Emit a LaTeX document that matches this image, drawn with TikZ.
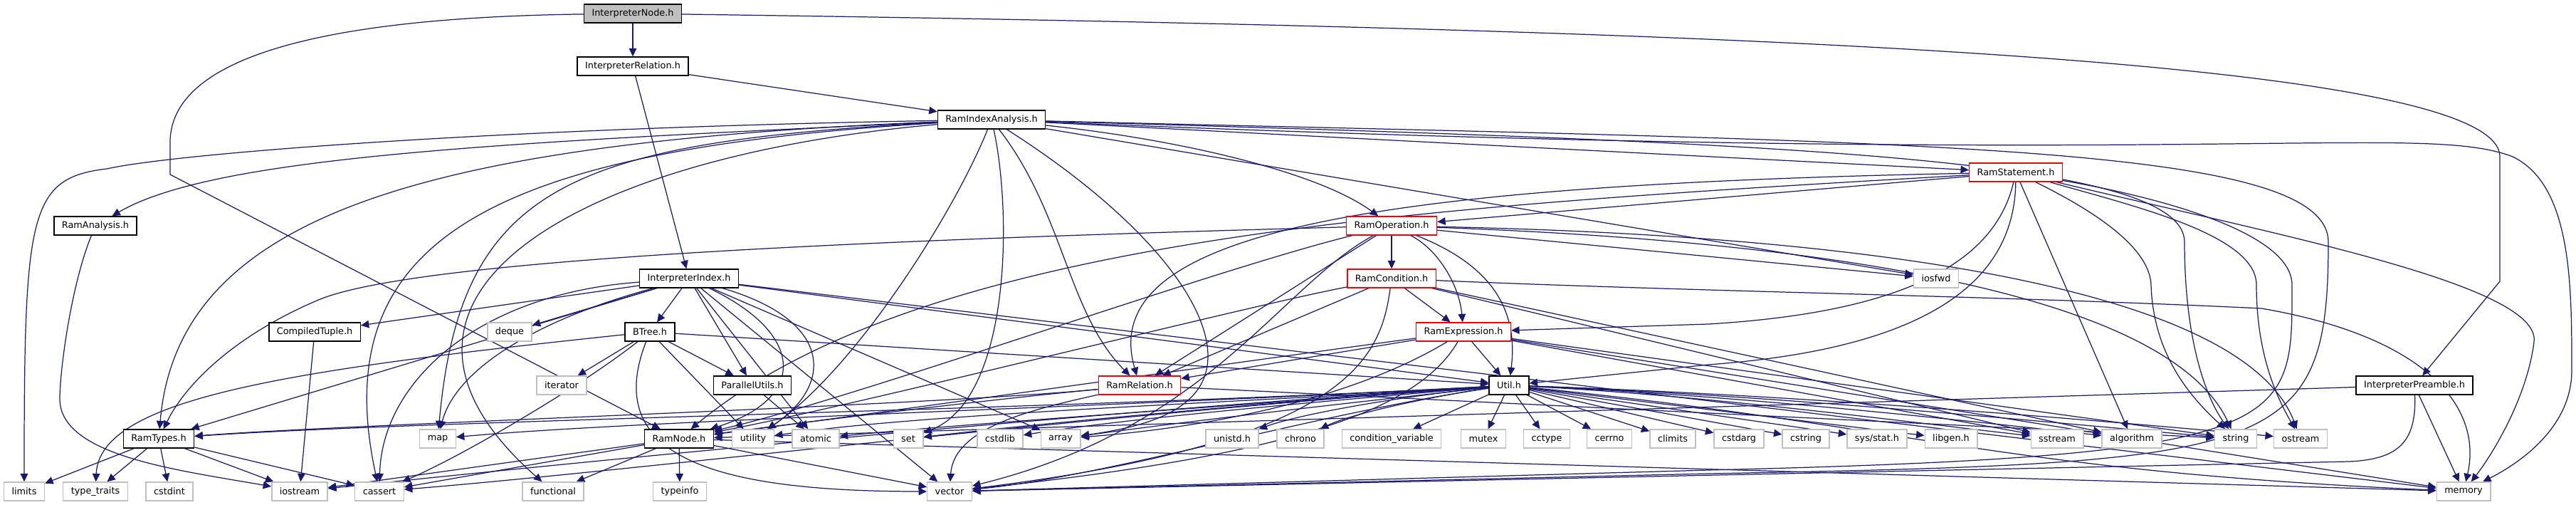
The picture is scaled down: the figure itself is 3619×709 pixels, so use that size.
\documentclass[tikz,border=0pt]{standalone}
\usepackage{fontspec}
\setmainfont{DejaVu Sans}
\usetikzlibrary{arrows.meta,backgrounds}
\definecolor{doxyedge}{HTML}{191970}
\definecolor{doxygrey}{HTML}{BFBFBF}

\begin{document}
\begin{tikzpicture}[x=0.02cm,y=-0.02cm,font=\fontsize{7.3}{8}\selectfont,
  file/.style={draw=black,fill=white,line width=0.8pt,minimum height=0.52cm,inner xsep=0.22cm,inner ysep=0pt},
  sysfile/.style={file,draw=doxygrey},
  cutfile/.style={file,draw=red},
  rootfile/.style={file,fill=doxygrey},
  inc/.style={draw=doxyedge,line width=0.7pt,-{Triangle[length=6.5pt,width=6pt]}}]
\useasboundingbox (0,0) rectangle (3619,709);
% headers
\node[rootfile] (inode) at (889,19) {InterpreterNode.h};
\node[file] (irel) at (889,93) {InterpreterRelation.h};
\node[file] (ria) at (1393,168) {RamIndexAnalysis.h};
\node[file] (rana) at (134,317) {RamAnalysis.h};
\node[cutfile] (rop) at (1955,317) {RamOperation.h};
\node[cutfile] (rst) at (2832,242) {RamStatement.h};
\node[file] (iidx) at (968,391) {InterpreterIndex.h};
\node[cutfile] (rcond) at (1955,391) {RamCondition.h};
\node[sysfile] (iosfwd) at (2720,391) {iosfwd};
\node[file] (ctup) at (442,466) {CompiledTuple.h};
\node[sysfile] (deque) at (716,466) {deque};
\node[file] (btree) at (913,466) {BTree.h};
\node[cutfile] (rexpr) at (2056,466) {RamExpression.h};
\node[sysfile] (iter) at (789,541) {iterator};
\node[file] (putil) at (1057,541) {ParallelUtils.h};
\node[cutfile] (rrel) at (1601,541) {RamRelation.h};
\node[file] (util) at (2120,541) {Util.h};
\node[file] (ipre) at (3392,541) {InterpreterPreamble.h};
\node[file] (rtypes) at (223,616) {RamTypes.h};
\node[sysfile] (map) at (615,616) {map};
\node[file] (rnode) at (954,616) {RamNode.h};
\node[sysfile] (utility) at (1058,616) {utility};
\node[sysfile] (atomic) at (1146,616) {atomic};
\node[sysfile] (set) at (1276,616) {set};
\node[sysfile] (cstdlib) at (1405,616) {cstdlib};
\node[sysfile] (array) at (1490,616) {array};
\node[sysfile] (unistd) at (1731,616) {unistd.h};
\node[sysfile] (chrono) at (1827,616) {chrono};
\node[sysfile] (condvar) at (1955,616) {condition\_variable};
\node[sysfile] (mutex) at (2084,616) {mutex};
\node[sysfile] (cctype) at (2173,616) {cctype};
\node[sysfile] (cerrno) at (2261,616) {cerrno};
\node[sysfile] (climits) at (2350,616) {climits};
\node[sysfile] (cstdarg) at (2443,616) {cstdarg};
\node[sysfile] (cstring) at (2537,616) {cstring};
\node[sysfile] (sysstat) at (2637,616) {sys/stat.h};
\node[sysfile] (libgen) at (2741,616) {libgen.h};
\node[sysfile] (sstream) at (2890,616) {sstream};
\node[sysfile] (algorithm) at (2995,616) {algorithm};
\node[sysfile] (string) at (3141,616) {string};
\node[sysfile] (ostream) at (3232,616) {ostream};
\node[sysfile] (limits) at (34,690) {limits};
\node[sysfile] (typetraits) at (134,690) {type\_traits};
\node[sysfile] (cstdint) at (238,690) {cstdint};
\node[sysfile] (iostream) at (421,690) {iostream};
\node[sysfile] (cassert) at (533,690) {cassert};
\node[sysfile] (functional) at (777,690) {functional};
\node[sysfile] (typeinfo) at (955,690) {typeinfo};
\node[sysfile] (vector) at (1334,690) {vector};
\node[sysfile] (memory) at (3461,690) {memory};

\begin{scope}[on background layer]
% InterpreterNode.h
\draw[inc] (inode) -- (irel);
\draw[inc] (inode) .. controls (420,25) and (239,90) .. (239,200) -- (239,245) -- (rnode);
\draw[inc] (inode) .. controls (2400,40) and (3512,80) .. (3512,220) -- (3512,395) -- (ipre);
% InterpreterRelation.h
\draw[inc] (irel) -- (ria);
\draw[inc] (irel) -- (iidx);
% RamIndexAnalysis.h
\draw[inc] (ria) .. controls (700,180) and (250,215) .. (150,237) .. controls (40,250) and (34,300) .. (limits);
\draw[inc] (ria) .. controls (700,200) and (300,220) .. (rana);
\draw[inc] (ria) .. controls (600,200) and (250,300) .. (rtypes);
\draw[inc] (ria) .. controls (700,210) and (455,330) .. (cassert);
\draw[inc] (ria) .. controls (800,220) and (470,420) .. (functional);
\draw[inc] (ria) .. controls (800,200) and (647,260) .. (map);
\draw[inc] (ria) .. controls (1340,300) and (1200,520) .. (utility);
\draw[inc] (ria) .. controls (1422,300) and (1420,560) .. (set);
\draw[inc] (ria) .. controls (1495,300) and (1500,440) .. (rrel);
\draw[inc] (ria) .. controls (1600,300) and (1697,420) .. (1697,500) .. controls (1697,580) and (1600,600) .. (array);
\draw[inc] (ria) .. controls (1650,195) and (1850,240) .. (rop);
\draw[inc] (ria) -- (rst);
\draw[inc] (ria) -- (iosfwd);
\draw[inc] (ria) .. controls (2500,200) and (3069,220) .. (3069,340) .. controls (3069,480) and (3100,560) .. (string);
\draw[inc] (ria) .. controls (2700,200) and (3271,200) .. (3271,340) .. controls (3271,640) and (3200,650) .. (2400,665) -- (vector);
\draw[inc] (ria) .. controls (3100,240) and (3400,170) .. (3530,220) .. controls (3613,260) and (3613,400) .. (3613,520) .. controls (3613,600) and (3540,650) .. (memory);
% RamAnalysis.h
\draw[inc] (rana) .. controls (100,400) and (84,520) .. (84,560) .. controls (84,640) and (250,660) .. (iostream);
% RamStatement.h
\draw[inc] (rst) -- (rop);
\draw[inc] (rst) .. controls (1900,260) and (1540,330) .. (rrel);
\draw[inc] (rst) .. controls (2800,380) and (2650,440) .. (2400,455) -- (rexpr);
\draw[inc] (rst) .. controls (2830,400) and (2700,490) .. (2400,512) -- (util);
\draw[inc] (rst) .. controls (2000,290) and (1300,330) .. (rnode);
\draw[inc] (rst) -- (algorithm);
\draw[inc] (rst) .. controls (2950,300) and (3020,350) .. (3022,400) .. controls (3025,500) and (3080,560) .. (string);
\draw[inc] (rst) .. controls (3000,290) and (3170,330) .. (3170,400) .. controls (3170,500) and (3200,560) .. (ostream);
\draw[inc] (rst) .. controls (3050,280) and (3220,330) .. (3220,400) .. controls (3220,600) and (3230,640) .. (2400,660) -- (vector);
\draw[inc] (rst) .. controls (3200,330) and (3570,400) .. (3560,480) .. controls (3550,560) and (3500,640) .. (memory);
% RamOperation.h
\draw[inc] (rop) -- (rcond);
\draw[inc] (rop) .. controls (2020,350) and (2050,400) .. (rexpr);
\draw[inc] (rop) .. controls (2090,370) and (2134,430) .. (util);
\draw[inc] (rop) -- (rrel);
\draw[inc] (rop) .. controls (1700,380) and (1200,560) .. (rnode);
\draw[inc] (rop) .. controls (1300,335) and (600,360) .. (450,420) .. controls (330,470) and (260,540) .. (rtypes);
\draw[inc] (rop) .. controls (1800,400) and (1700,600) .. (vector);
\draw[inc] (rop) -- (iosfwd);
\draw[inc] (rop) .. controls (2600,340) and (3050,420) .. (string);
\draw[inc] (rop) .. controls (2600,330) and (3150,400) .. (ostream);
% RamCondition.h
\draw[inc] (rcond) -- (rexpr);
\draw[inc] (rcond) -- (rrel);
\draw[inc] (rcond) .. controls (1750,430) and (1200,570) .. (rnode);
\draw[inc] (rcond) .. controls (1940,500) and (1900,620) .. (vector);
\draw[inc] (rcond) -- (sstream);
\draw[inc] (rcond) -- (algorithm);
\draw[inc] (rcond) .. controls (2400,410) and (2800,415) .. (3177,433) .. controls (3411,473) and (3488,573) .. (memory);
% RamExpression.h
\draw[inc] (rexpr) -- (util);
\draw[inc] (rexpr) -- (rrel);
\draw[inc] (rexpr) .. controls (1800,500) and (1200,585) .. (rnode);
\draw[inc] (rexpr) .. controls (1900,560) and (1700,600) .. (array);
\draw[inc] (rexpr) .. controls (1990,580) and (1800,640) .. (vector);
\draw[inc] (rexpr) -- (sstream);
\draw[inc] (rexpr) -- (string);
\draw[inc] (rexpr) -- (memory);
% RamRelation.h
\draw[inc] (rrel) .. controls (1400,560) and (1150,590) .. (rnode);
\draw[inc] (rrel) .. controls (1300,570) and (500,595) .. (rtypes);
\draw[inc] (rrel) .. controls (1450,575) and (1340,600) .. (vector);
\draw[inc] (rrel) -- (string);
% Util.h
\foreach \dst/\ca/\cb/\cc/\cd in {rtypes/1500/575/600/590,map/1600/570/900/590,utility/1750/565/1300/580,
    atomic/1800/565/1350/595,set/1850/560/1500/590,cstdlib/1900/560/1600/585,array/1900/565/1680/590,
    unistd/1980/555/1830/580,chrono/2020/555/1900/580,iostream/1500/580/800/650,cassert/1500/585/900/660,
    vector/1850/580/1550/670}
  \draw[inc] (util) .. controls (\ca,\cb) and (\cc,\cd) .. (\dst);
\foreach \dst in {condvar,mutex,cctype,cerrno,climits,cstdarg,cstring,sysstat,libgen}
  \draw[inc] (util) -- (\dst);
\foreach \dst/\ca/\cc in {sstream/2400/2700,algorithm/2450/2800,string/2500/2900,ostream/2550/3000}
  \draw[inc] (util) .. controls (\ca,555) and (\cc,595) .. (\dst);
\draw[inc] (util) .. controls (2700,600) and (2800,660) .. (memory);
% InterpreterIndex.h
\draw[inc] (iidx) -- (ctup);
\draw[inc] (iidx) -- (deque);
\draw[inc] (iidx) -- (btree);
\draw[inc] (iidx) -- (putil);
\draw[inc] (iidx) -- (rtypes);
\draw[inc] (iidx) .. controls (750,450) and (640,520) .. (map);
\draw[inc] (iidx) .. controls (666,413) and (536,540) .. (cassert);
\draw[inc] (iidx) .. controls (1133,470) and (1133,560) .. (rnode);
\draw[inc] (iidx) .. controls (1171,450) and (1171,540) .. (utility);
\draw[inc] (iidx) -- (util);
\draw[inc] (iidx) -- (array);
\draw[inc] (iidx) -- (atomic);
\draw[inc] (iidx) -- (vector);
\draw[inc] (iidx) -- (memory);
% BTree.h
\draw[inc] (btree) -- (putil);
\draw[inc] (btree) .. controls (400,520) and (140,560) .. (typetraits);
\draw[inc] (btree) -- (iter);
\draw[inc] (btree) .. controls (820,540) and (650,640) .. (cassert);
\draw[inc] (btree) .. controls (845,640) and (1000,690) .. (vector);
\draw[inc] (btree) -- (utility);
\draw[inc] (btree) -- (util);
% ParallelUtils.h, CompiledTuple.h
\draw[inc] (putil) -- (atomic);
\draw[inc] (ctup) -- (iostream);
% RamTypes.h
\foreach \dst in {limits,typetraits,cstdint,iostream,cassert}
  \draw[inc] (rtypes) -- (\dst);
% RamNode.h
\foreach \dst in {iostream,cassert,functional,typeinfo,vector,memory}
  \draw[inc] (rnode) -- (\dst);
% InterpreterPreamble.h
\draw[inc] (ipre) -- (rnode);
\draw[inc] (ipre) -- (memory);
\draw[inc] (ipre) .. controls (3395,620) and (3370,645) .. (3300,648) -- (vector);
\end{scope}
\end{tikzpicture}
\end{document}
